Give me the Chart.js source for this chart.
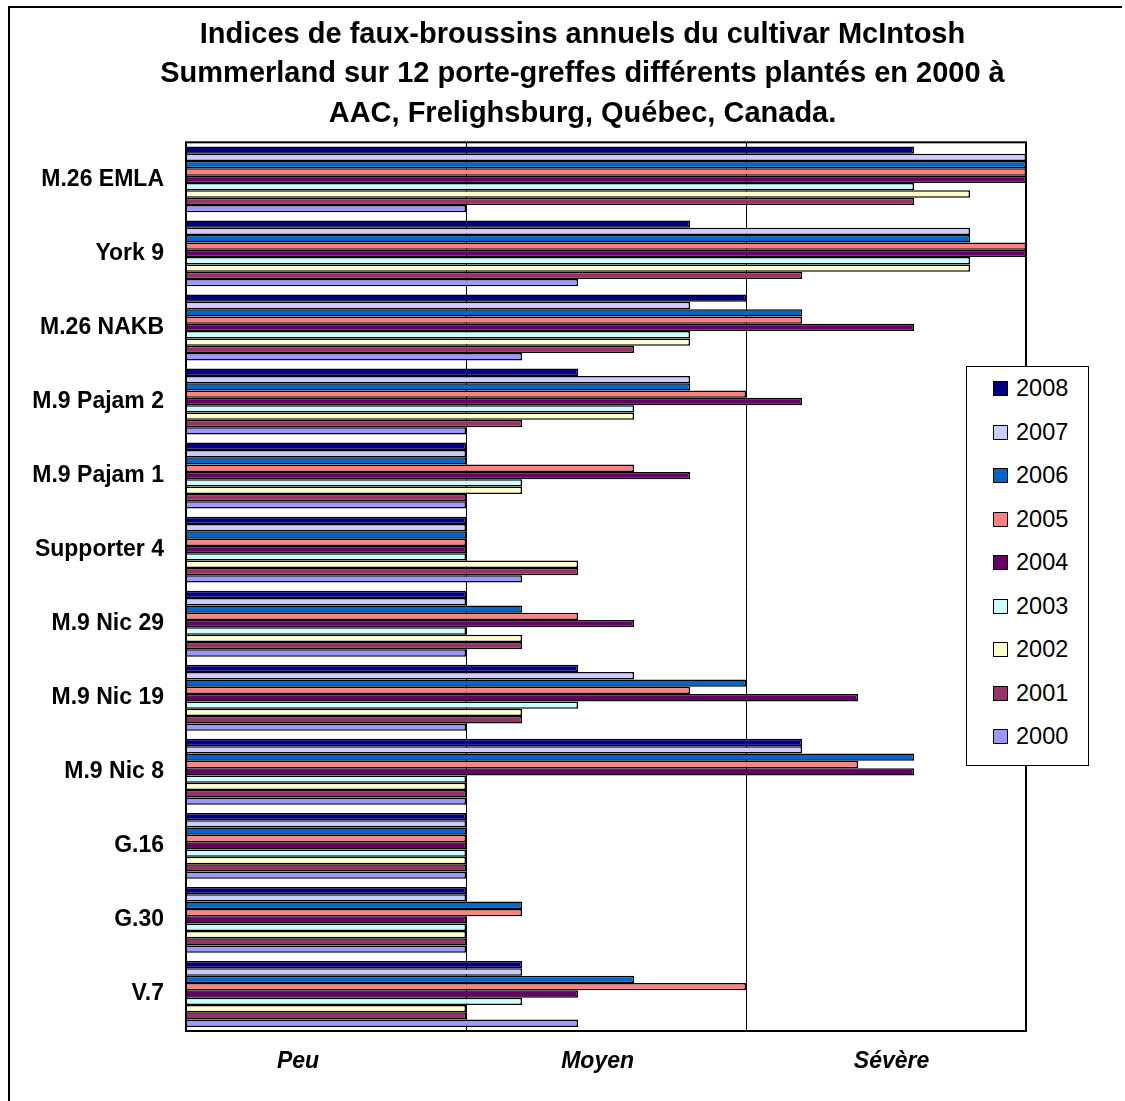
<!DOCTYPE html>
<html>
<head>
<meta charset="utf-8">
<title>Indices de faux-broussins - McIntosh Summerland</title>
<script src="https://cdn.jsdelivr.net/npm/chart.js@4.4.0/dist/chart.umd.min.js"></script>
<style>
    body { margin: 0; background: #fff; }
    #frame {
        position: absolute; left: 8px; top: 6px; width: 1112px; height: 1100px;
        border-top: 2px solid #000; border-left: 2px solid #000;
    }
    #wrap { position: absolute; left: 0; top: 0; width: 1125px; height: 1101px; }
    #legend {
        position: absolute; left: 966px; top: 366px; width: 123px; height: 400px;
        box-sizing: border-box; border: 1px solid #000; background: #fff;
        font-family: 'Liberation Sans', Arial, sans-serif; font-size: 23.5px; color: #000;
    }
    .item { height: 43.5px; display: flex; align-items: center; padding-left: 26px; }
    .box { width: 13px; height: 13px; border: 1.5px solid #000; margin-right: 8px; }
</style>
</head>
<body>
<div id="frame"></div>
<div id="wrap"><canvas id="myChart" width="1125" height="1101"></canvas></div>
<div id="legend"></div>
<script>
const categories = ['M.26 EMLA', 'York 9', 'M.26 NAKB', 'M.9 Pajam 2', 'M.9 Pajam 1', 'Supporter 4',
    'M.9 Nic 29', 'M.9 Nic 19', 'M.9 Nic 8', 'G.16', 'G.30', 'V.7'];
const years = ['2008', '2007', '2006', '2005', '2004', '2003', '2002', '2001', '2000'];

const v2008 = [2.6, 1.8, 2.0, 1.4, 1.0, 1.0, 1.0, 1.4, 2.2, 1.0, 1.0, 1.2];
const v2007 = [3.0, 2.8, 1.8, 1.8, 1.0, 1.0, 1.0, 1.6, 2.2, 1.0, 1.0, 1.2];
const v2006 = [3.0, 2.8, 2.2, 1.8, 1.0, 1.0, 1.2, 2.0, 2.6, 1.0, 1.2, 1.6];
const v2005 = [3.0, 3.0, 2.2, 2.0, 1.6, 1.0, 1.4, 1.8, 2.4, 1.0, 1.2, 2.0];
const v2004 = [3.0, 3.0, 2.6, 2.2, 1.8, 1.0, 1.6, 2.4, 2.6, 1.0, 1.0, 1.4];
const v2003 = [2.6, 2.8, 1.8, 1.6, 1.2, 1.0, 1.0, 1.4, 1.0, 1.0, 1.0, 1.2];
const v2002 = [2.8, 2.8, 1.8, 1.6, 1.2, 1.4, 1.2, 1.2, 1.0, 1.0, 1.0, 1.0];
const v2001 = [2.6, 2.2, 1.6, 1.2, 1.0, 1.4, 1.2, 1.2, 1.0, 1.0, 1.0, 1.0];
const v2000 = [1.0, 1.4, 1.2, 1.0, 1.0, 1.2, 1.0, 1.0, 1.0, 1.0, 1.0, 1.4];
const seriesValues = [v2008, v2007, v2006, v2005, v2004, v2003, v2002, v2001, v2000];

const barColors = ['#000080', '#CCCCFF', '#0066CC', '#FF8080', '#660066',
    '#CCFFFF', '#FFFFCC', '#993366', '#9999FF'];

// severity words under the axis, and where they sit on the 0-3 scale
const scaleLabels = ['Peu', 'Moyen', 'Sévère'];
const scaleLabelAt = [0.4, 1.47, 2.52];

const font = "'Liberation Sans', Arial, sans-serif";

const frameBorder = {
    id: 'frameBorder',
    afterLayout(chart) {
        // title in the original sits a bit right of the canvas centre
        const t = chart.titleBlock;
        if (t) { t.left += 20; t.right += 20; }
    },
    afterDatasetsDraw(chart) {
        const { ctx, chartArea: a } = chart;
        ctx.save();
        ctx.strokeStyle = '#000';
        ctx.lineWidth = 2;
        ctx.strokeRect(a.left, a.top, a.right - a.left, a.bottom - a.top);
        ctx.restore();
    }
};

const ctx = document.getElementById('myChart').getContext('2d');
const myChart = new Chart(ctx, {
    type: 'bar',
    data: {
        labels: categories,
        datasets: years.map((y, i) => ({
            label: y,
            data: seriesValues[i],
            backgroundColor: barColors[i],
            borderColor: '#000',
            borderWidth: 1.5,
            barPercentage: 1,
            categoryPercentage: 0.89
        }))
    },
    options: {
        indexAxis: 'y',
        responsive: false,
        animation: false,
        layout: { padding: 0 },
        plugins: {
            legend: { display: false },
            tooltip: { enabled: false },
            title: {
                display: true,
                text: ['Indices de faux-broussins annuels du cultivar McIntosh',
                    'Summerland sur 12 porte-greffes différents plantés en 2000 à',
                    'AAC, Frelighsburg, Québec, Canada.'],
                color: '#000',
                font: { family: font, size: 29, weight: 'bold', lineHeight: 1.36 },
                padding: { top: 15, bottom: 9 }
            }
        },
        scales: {
            y: {
                type: 'category',
                grid: { display: false, drawTicks: false },
                border: { display: false },
                ticks: { color: '#000', font: { family: font, size: 23, weight: 'bold' }, padding: 22 },
                afterFit: s => { s.width = 186; }
            },
            yRight: {
                type: 'linear',
                position: 'right',
                grid: { display: false, drawTicks: false },
                border: { display: false },
                ticks: { display: false },
                afterFit: s => { s.width = 99; }
            },
            x: {
                min: 0,
                max: 3,
                grid: { color: '#000', lineWidth: 1, drawTicks: false },
                border: { display: false },
                ticks: { display: false, stepSize: 1 },
                afterFit: s => { s.height = 0; }
            },
            xLab: {
                type: 'linear',
                position: 'bottom',
                min: 0,
                max: 3,
                grid: { display: false, drawTicks: false },
                border: { display: false },
                afterBuildTicks: s => { s.ticks = scaleLabelAt.map(v => ({ value: v })); },
                ticks: {
                    autoSkip: false,
                    maxRotation: 0,
                    padding: 17,
                    color: '#000',
                    font: { family: font, size: 23, weight: 'bold', style: 'italic' },
                    callback: (val, i) => scaleLabels[i]
                },
                afterFit: s => { s.height = 70; }
            }
        }
    },
    plugins: [frameBorder]
});

// legend box drawn in html, floating over the plot like the original
const legendEl = document.getElementById('legend');
years.forEach((y, i) => {
    const row = document.createElement('div');
    row.className = 'item';
    const box = document.createElement('span');
    box.className = 'box';
    box.style.background = barColors[i];
    row.appendChild(box);
    row.appendChild(document.createTextNode(y));
    legendEl.appendChild(row);
});
</script>
</body>
</html>
